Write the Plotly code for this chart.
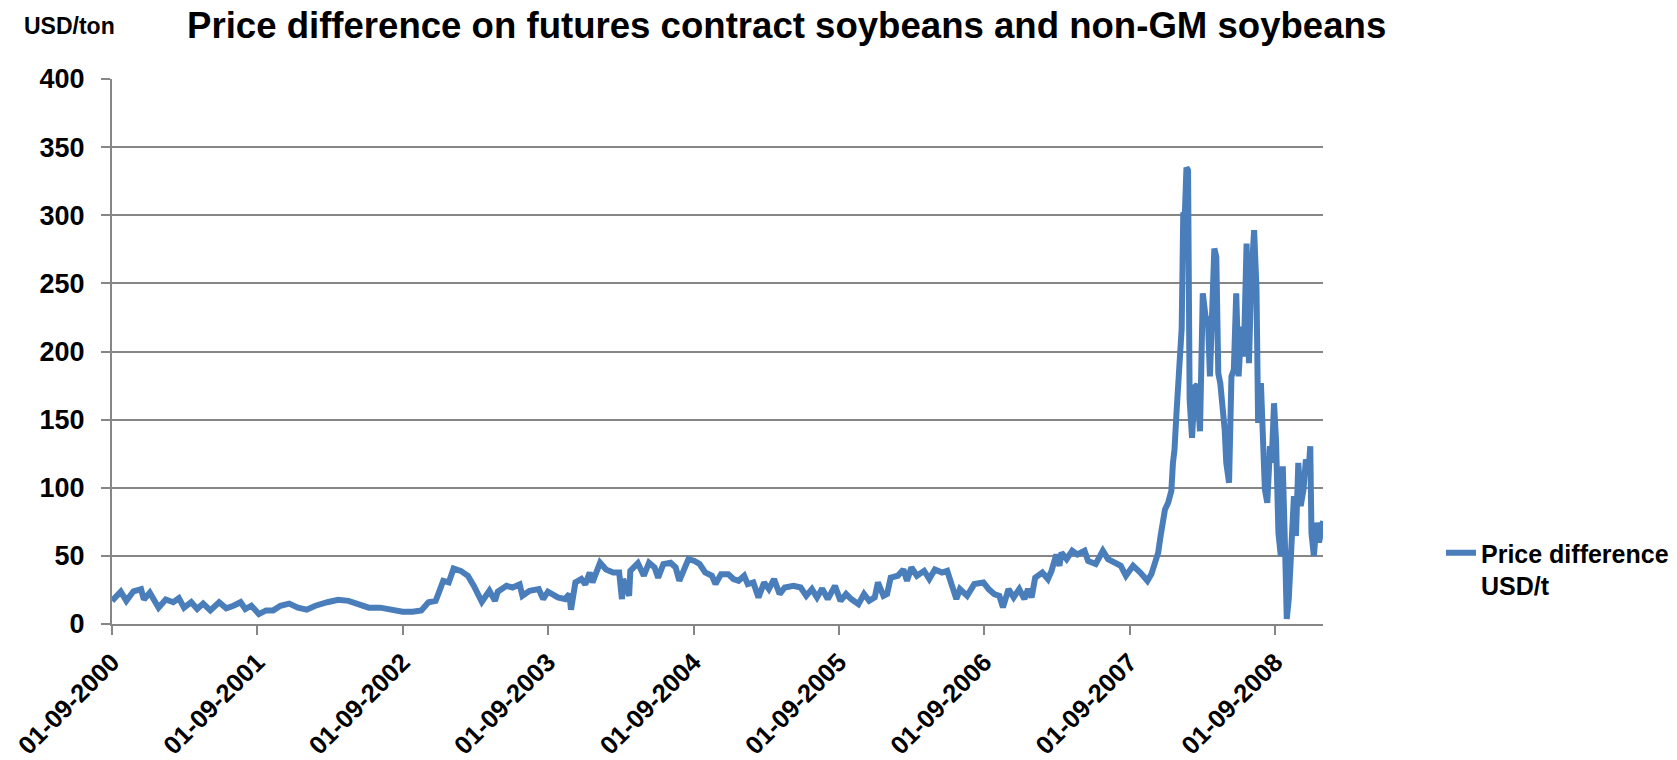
import plotly.graph_objects as go

dates = [
    "2000-09-01", "2000-09-23", "2000-10-07", "2000-10-25", "2000-11-13", "2000-11-20",
    "2000-12-05", "2000-12-19", "2000-12-27", "2001-01-14", "2001-02-02", "2001-02-16",
    "2001-03-01", "2001-03-19", "2001-04-03", "2001-04-18", "2001-05-06", "2001-05-28",
    "2001-06-15", "2001-07-03", "2001-07-21", "2001-08-02", "2001-08-17", "2001-09-05",
    "2001-09-23", "2001-10-11", "2001-10-29", "2001-11-20", "2001-12-12", "2002-01-03",
    "2002-01-25", "2002-02-24", "2002-03-23", "2002-04-18", "2002-05-13", "2002-06-08",
    "2002-07-07", "2002-08-02", "2002-09-01", "2002-09-26", "2002-10-18", "2002-11-05",
    "2002-11-23", "2002-12-01", "2002-12-12", "2002-12-26", "2003-01-07", "2003-01-25",
    "2003-02-12", "2003-02-27", "2003-03-08", "2003-03-19", "2003-04-07", "2003-04-21",
    "2003-04-28", "2003-05-20", "2003-06-04", "2003-06-22", "2003-06-29", "2003-07-17",
    "2003-08-09", "2003-08-20", "2003-09-01", "2003-09-26", "2003-10-14", "2003-10-25",
    "2003-10-29", "2003-11-09", "2003-11-24", "2003-12-04", "2003-12-15", "2003-12-22",
    "2004-01-10", "2004-01-25", "2004-02-12", "2004-02-27", "2004-03-05", "2004-03-08",
    "2004-03-23", "2004-03-26", "2004-04-14", "2004-04-29", "2004-05-12", "2004-05-26",
    "2004-06-04", "2004-06-17", "2004-07-05", "2004-07-18", "2004-07-27", "2004-08-10",
    "2004-08-19", "2004-09-03", "2004-09-16", "2004-09-30", "2004-10-17", "2004-10-26",
    "2004-11-09", "2004-11-27", "2004-12-10", "2004-12-23", "2005-01-06", "2005-01-15",
    "2005-01-29", "2005-02-11", "2005-02-25", "2005-03-09", "2005-03-22", "2005-04-05",
    "2005-04-18", "2005-05-10", "2005-05-28", "2005-06-11", "2005-06-25", "2005-07-08",
    "2005-07-21", "2005-08-04", "2005-08-22", "2005-09-05", "2005-09-19", "2005-10-02",
    "2005-10-20", "2005-11-03", "2005-11-16", "2005-11-30", "2005-12-08", "2005-12-22",
    "2005-12-31", "2006-01-09", "2006-01-27", "2006-02-10", "2006-02-19", "2006-03-02",
    "2006-03-16", "2006-04-03", "2006-04-16", "2006-04-30", "2006-05-18", "2006-05-31",
    "2006-06-09", "2006-06-23", "2006-07-02", "2006-07-20", "2006-08-07", "2006-08-30",
    "2006-09-12", "2006-09-26", "2006-10-09", "2006-10-18", "2006-11-01", "2006-11-14",
    "2006-11-28", "2006-12-11", "2006-12-20", "2006-12-29", "2007-01-07", "2007-01-25",
    "2007-02-08", "2007-02-17", "2007-03-01", "2007-03-09", "2007-03-14", "2007-03-27",
    "2007-04-10", "2007-04-23", "2007-05-11", "2007-05-20", "2007-06-08", "2007-06-26",
    "2007-07-09", "2007-07-27", "2007-08-10", "2007-08-23", "2007-09-10", "2007-09-28",
    "2007-10-16", "2007-10-26", "2007-11-04", "2007-11-12", "2007-11-18", "2007-11-24",
    "2007-11-29", "2007-12-07", "2007-12-15", "2007-12-19", "2007-12-23", "2007-12-28",
    "2008-01-04", "2008-01-07", "2008-01-10", "2008-01-14", "2008-01-18", "2008-01-22",
    "2008-01-26", "2008-01-30", "2008-02-05", "2008-02-12", "2008-02-18", "2008-02-25",
    "2008-03-03", "2008-03-10", "2008-03-16", "2008-03-21", "2008-03-27", "2008-04-01",
    "2008-04-06", "2008-04-11", "2008-04-16", "2008-04-21", "2008-04-27", "2008-05-01",
    "2008-05-08", "2008-05-14", "2008-05-20", "2008-05-26", "2008-06-01", "2008-06-08",
    "2008-06-14", "2008-06-21", "2008-06-27", "2008-07-03", "2008-07-10", "2008-07-16",
    "2008-07-20", "2008-07-27", "2008-07-31", "2008-08-06", "2008-08-12", "2008-08-19",
    "2008-08-23", "2008-08-29", "2008-09-03", "2008-09-09", "2008-09-15", "2008-09-20",
    "2008-09-26", "2008-09-30", "2008-10-05", "2008-10-12", "2008-10-18", "2008-10-23",
    "2008-10-29", "2008-11-04", "2008-11-11", "2008-11-17", "2008-11-24", "2008-11-28",
    "2008-12-01", "2008-12-07", "2008-12-14", "2008-12-20", "2008-12-26", "2008-12-30",
]

price_diff = [
    17, 23.7, 17, 24, 25.6, 18,
    23, 17, 12, 18, 16, 19,
    12, 16, 11, 15, 10, 16,
    11.5, 13.4, 16, 11, 13.4, 7.3,
    10, 10, 13.4, 15, 12, 10.5,
    13.4, 16, 17.8, 17, 14.6, 12,
    12, 10.5, 9, 9, 10, 16,
    17, 23, 31.7, 30.5, 40.7, 39,
    35.4, 28, 23, 16.3, 24.4, 17,
    23.7, 28, 26.8, 29, 20.7, 24.4,
    25.6, 18.3, 23.7, 19.5, 18.3, 22,
    10.5, 30.5, 33, 29, 37.8, 30.5,
    45, 40, 37.8, 37.8, 18.3, 33,
    20.7, 39, 44.6, 35.4, 45, 41.5,
    34, 44, 45, 41.5, 31.7, 41.5,
    47.6, 46.3, 44, 37.8, 35.4, 29.3,
    36.6, 36.6, 33, 31.7, 35.4, 29.3,
    30.5, 19.5, 30.5, 25.6, 33, 22,
    26.8, 28, 26.8, 20.7, 25.6, 19.5,
    26, 18.3, 28, 17, 22, 18.3,
    14.6, 22, 17, 19.5, 30.5, 20.7,
    22, 34, 35.4, 40, 31.7, 41.5,
    35.4, 39, 33, 40, 37.8, 39,
    31.7, 18.3, 25.6, 20.7, 29.3, 30.5,
    25.6, 22, 20.7, 12.2, 25.6, 19.5,
    25.6, 18.3, 25.6, 19.5, 34, 37.8,
    33, 39, 51, 42.7, 52.4, 47.6,
    53.7, 51, 53.7, 46.3, 44, 53.7,
    47.6, 45, 42.7, 35.4, 42.7, 37.8,
    31.7, 36.6, 45, 52.4, 64.6, 74.4,
    84, 89, 97.6, 118, 128, 155,
    191.5, 194, 217, 302, 301, 335,
    333, 164.6, 136.6, 174, 175.6, 141.5,
    242.7, 225.6, 223, 181.7, 257.3, 275.6,
    269.5, 184, 176.8, 162, 142.7, 118.3,
    103.7, 181.7, 186.6, 242.7, 181.7, 218.3,
    196.3, 279.3, 191.5, 254.9, 289, 245,
    147.6, 176.8, 147.6, 98.8, 89, 130.5,
    118.3, 162, 135, 67, 50, 115.8,
    52.4, 3.7, 18.3, 67, 93.9, 64.6,
    118.3, 86.6, 98.8, 120.7, 113.4, 130.5,
    67, 50, 74.4, 59.8, 74.4, 75.6,
]

tick_dates = ["2000-09-01", "2001-09-01", "2002-09-01", "2003-09-01", "2004-09-01",
              "2005-09-01", "2006-09-01", "2007-09-01", "2008-09-01"]
tick_labels = ["01-09-2000", "01-09-2001", "01-09-2002", "01-09-2003", "01-09-2004",
               "01-09-2005", "01-09-2006", "01-09-2007", "01-09-2008"]

series_name = "Price difference<br>USD/t"
title_text = "Price difference on futures contract soybeans and non-GM soybeans"
unit_text = "USD/ton"

FONT = "Liberation Sans, Arial, sans-serif"
GRID = "#868686"
LINE = "#4a7ebb"

W, H = 1677, 760
ML, MR, MT, MB = 112, 354, 79, 136
PW = W - ML - MR
PH = H - MT - MB

def px_x(x):
    return (x - ML) / PW

def px_y(y):
    return (H - MB - y) / PH

fig = go.Figure()
fig.add_trace(go.Scatter(
    x=dates, y=price_diff, mode="lines", name=series_name,
    line=dict(color=LINE, width=6),
))

fig.update_layout(
    width=W, height=H,
    margin=dict(l=ML, r=MR, t=MT, b=MB, pad=0, autoexpand=False),
    paper_bgcolor="white", plot_bgcolor="white",
    font=dict(family=FONT, color="black", size=25, weight="bold"),
    showlegend=True,
    legend=dict(
        x=px_x(1441), xanchor="left", y=px_y(530), yanchor="top",
        font=dict(family=FONT, size=25, color="black", weight="bold"),
        bgcolor="rgba(0,0,0,0)", valign="top", tracegroupgap=0,
    ),
    xaxis=dict(
        type="date", range=["2000-09-01", "2008-12-30"],
        tickvals=tick_dates, ticktext=tick_labels, tickangle=-45,
        showgrid=False, showline=True, linecolor=GRID, linewidth=2,
        ticks="outside", ticklen=9, tickwidth=2, tickcolor=GRID,
        tickfont=dict(family=FONT, size=25.5, color="black", weight="bold"),
        ticklabelstandoff=2,
        zeroline=False, fixedrange=True, automargin=False,
    ),
    yaxis=dict(
        range=[0, 400], dtick=50, tick0=0,
        showgrid=True, gridcolor=GRID, gridwidth=2,
        showline=True, linecolor=GRID, linewidth=2,
        ticks="outside", ticklen=9, tickwidth=2, tickcolor=GRID,
        tickfont=dict(family=FONT, size=27, color="black", weight="bold"),
        ticklabelstandoff=11,
        zeroline=False, fixedrange=True, automargin=False,
    ),
    annotations=[
        dict(text=title_text, xref="paper", yref="paper", x=px_x(786), y=px_y(25),
             xanchor="center", yanchor="middle", showarrow=False,
             font=dict(family=FONT, size=36.6, color="black", weight="bold")),
        dict(text=unit_text, xref="paper", yref="paper", x=px_x(22), y=px_y(26),
             xanchor="left", yanchor="middle", showarrow=False,
             font=dict(family=FONT, size=23, color="black", weight="bold")),
    ],
)

fig.write_html("out.html")
